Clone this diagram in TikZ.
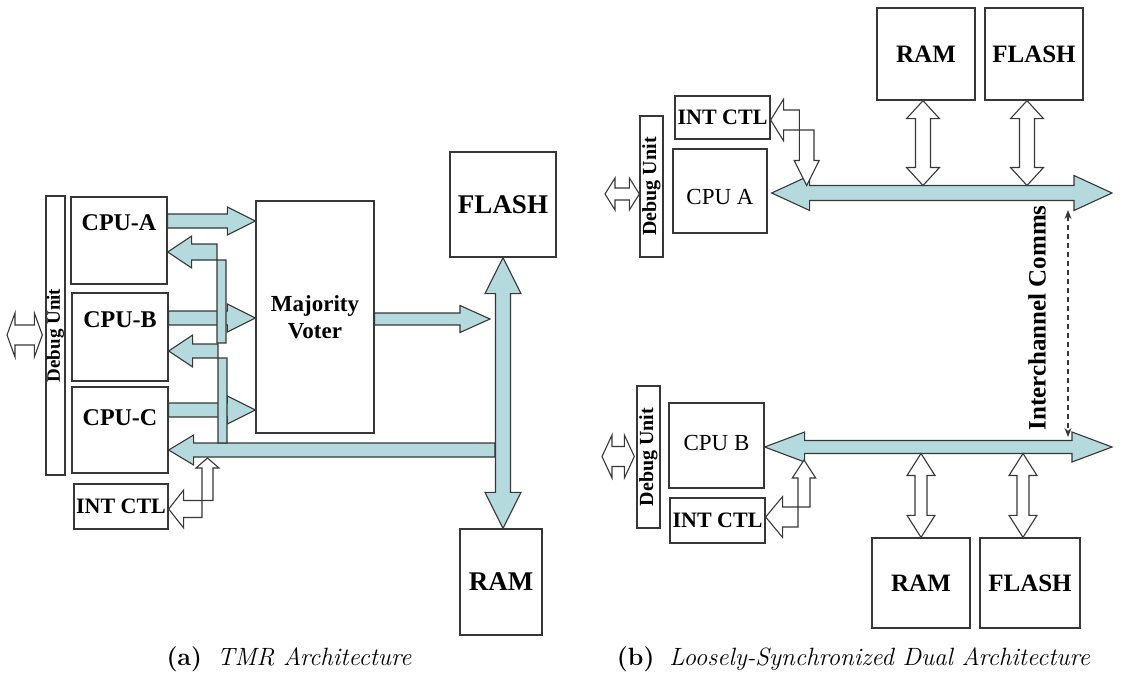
\documentclass[tikz,border=0pt]{standalone}
\usepackage{fontspec}
\newfontfamily\timesfont{Liberation Serif}
\usetikzlibrary{calc, arrows.meta}

\definecolor{busblue}{RGB}{180,218,222}
\definecolor{edgegray}{RGB}{55,55,55}

\tikzstyle{box} = [rectangle, draw=edgegray, line width=1.3pt, fill=white, inner sep=0pt]
\tikzstyle{cpulbl} = [inner sep=0pt, font=\timesfont\bfseries\fontsize{24}{28}\selectfont]
\tikzstyle{voterlbl} = [align=center, font=\timesfont\bfseries\fontsize{23}{27}\selectfont]
\tikzstyle{memlbl} = [font=\timesfont\bfseries\fontsize{27}{30}\selectfont]
\tikzstyle{smallmemlbl} = [font=\timesfont\bfseries\fontsize{25}{28}\selectfont]
\tikzstyle{intlbl} = [font=\timesfont\bfseries\fontsize{22}{24}\selectfont]
\tikzstyle{dbglbl} = [inner sep=0pt, font=\timesfont\bfseries\fontsize{19}{21}\selectfont]
\tikzstyle{plainlbl} = [inner sep=0pt, font=\timesfont\fontsize{23}{26}\selectfont]
\tikzstyle{commslbl} = [inner sep=0pt, font=\timesfont\bfseries\fontsize{25}{28}\selectfont]
\tikzstyle{fat} = [draw=edgegray, fill=busblue, line width=1.1pt, line join=miter]
\tikzstyle{hollow} = [fat, fill=white]
\tikzstyle{commsline} = [draw=edgegray, line width=1.2pt, dash pattern=on 5pt off 4pt,
                         {Stealth[length=9pt,width=7pt]}-{Stealth[length=9pt,width=7pt]}]
\tikzstyle{caption} = [font=\fontsize{25}{30}\selectfont]

% half widths and head lengths of the block arrows
\tikzset{
  fat shaft/.store in=\arrsh, fat head/.store in=\arrhw, fat length/.store in=\arrhl,
  arm shaft/.store in=\armsh, arm head/.store in=\armhw, arm length/.store in=\armhl,
  fat shaft=7, fat head=14, fat length=28, arm shaft=5, arm head=12, arm length=15
}

% block arrow from #2 to #3, head at #3
\newcommand{\fatarrow}[3][]{%
  \draw[fat,#1] let \p1=(#2), \p2=(#3),
      \n1={veclen(\x2-\x1,\y2-\y1)}, \n2={atan2(\y2-\y1,\x2-\x1)} in
    [shift={(\p1)}, rotate=\n2]
    (0,\arrsh) -- (\n1-\arrhl,\arrsh) -- (\n1-\arrhl,\arrhw) -- (\n1,0)
    -- (\n1-\arrhl,-\arrhw) -- (\n1-\arrhl,-\arrsh) -- (0,-\arrsh) -- cycle;}

% block arrow with a head on both ends
\newcommand{\fatdarrow}[3][]{%
  \draw[fat,#1] let \p1=(#2), \p2=(#3),
      \n1={veclen(\x2-\x1,\y2-\y1)}, \n2={atan2(\y2-\y1,\x2-\x1)} in
    [shift={(\p1)}, rotate=\n2]
    (0,0) -- (\arrhl,\arrhw) -- (\arrhl,\arrsh) -- (\n1-\arrhl,\arrsh) -- (\n1-\arrhl,\arrhw)
    -- (\n1,0) -- (\n1-\arrhl,-\arrhw) -- (\n1-\arrhl,-\arrsh) -- (\arrhl,-\arrsh)
    -- (\arrhl,-\arrhw) -- cycle;}

% bent block arrow: head at #2 (pointing left), bend at #3, arm ends at #4
\newcommand{\fatelbow}[4][]{%
  \draw[fat,#1] let \p1=(#2), \p2=(#3), \p3=(#4),
      \n1={\x2-\x1}, \n2={abs(\y3-\y2)}, \n3={sign(\y3-\y2)} in
    [shift={(\p1)}, yscale=\n3]
    (0,0) -- (\arrhl,-\arrhw) -- (\arrhl,-\arrsh) -- (\n1+\armsh,-\arrsh) -- (\n1+\armsh,\n2)
    -- (\n1-\armsh,\n2) -- (\n1-\armsh,\arrsh) -- (\arrhl,\arrsh) -- (\arrhl,\arrhw) -- cycle;}

% bent block arrow with a second head at #4
\newcommand{\fatdelbow}[4][]{%
  \draw[fat,#1] let \p1=(#2), \p2=(#3), \p3=(#4),
      \n1={\x2-\x1}, \n2={abs(\y3-\y2)}, \n3={sign(\y3-\y2)} in
    [shift={(\p1)}, yscale=\n3]
    (0,0) -- (\arrhl,-\arrhw) -- (\arrhl,-\arrsh) -- (\n1+\armsh,-\arrsh)
    -- (\n1+\armsh,\n2-\armhl) -- (\n1+\armhw,\n2-\armhl) -- (\n1,\n2)
    -- (\n1-\armhw,\n2-\armhl) -- (\n1-\armsh,\n2-\armhl) -- (\n1-\armsh,\arrsh)
    -- (\arrhl,\arrsh) -- (\arrhl,\arrhw) -- cycle;}

\begin{document}
\begin{tikzpicture}[x=1pt, y=-1pt]
  \useasboundingbox (0,0) rectangle (1133,677);

  %Nodes (TMR)
  \node[box, minimum width=19, minimum height=279] (debugL) at (55.5,335.5) {};
  \node[dbglbl, rotate=90] (debugLtext) at (debugL) {Debug Unit};
  \node[box, minimum width=96, minimum height=87] (cpua) at (119,240.5) {};
  \node[box, minimum width=96, minimum height=88] (cpub) at (120,337) {};
  \node[box, minimum width=96, minimum height=86] (cpuc) at (120,430) {};
  \node[cpulbl] (cpuatext) at (cpua |- 0,223) {CPU-A};
  \node[cpulbl] (cpubtext) at (cpub |- 0,320) {CPU-B};
  \node[cpulbl] (cpuctext) at (cpuc |- 0,418) {CPU-C};
  \node[box, voterlbl, minimum width=118, minimum height=232] (voter) at (315,317) {Majority\\Voter};
  \node[box, memlbl, minimum width=106, minimum height=105] (flashL) at (503,204.5) {FLASH};
  \node[box, memlbl, minimum width=82, minimum height=106] (ramL) at (501,582) {RAM};
  \node[box, intlbl, minimum width=94, minimum height=45] (intL) at (121,506.5) {INT CTL};

  %Lines (TMR)
  \coordinate (busjoin) at ($(flashL.south |- 0,450)+(-8,0)$);
  \coordinate (busin) at ($(flashL.south |- 0,319)+(-13,0)$);
  \coordinate (retAend) at (221.5,343);
  \coordinate (retBend) at (222.5,443);
  \coordinate (intLport) at (207.5,458);
  \coordinate (dbgLport) at (7,335);
  \fatarrow[fat shaft=7, fat head=15, fat length=25]{busjoin}{cpuc.east |- busjoin}
  \fatdarrow[fat shaft=7.5, fat head=18, fat length=36]{flashL.south}{flashL.south |- ramL.north}
  \fatarrow[fat shaft=6, fat head=13.5, fat length=30]{voter.east |- busin}{busin}
  \fatarrow{cpua.east |- 0,221}{voter.west |- 0,221}
  \fatarrow{cpub.east |- 0,318}{voter.west |- 0,318}
  \fatarrow{cpuc.east |- 0,410}{voter.west |- 0,410}
  \fatelbow[fat shaft=8, fat head=16, fat length=24, arm shaft=4.5]{cpua.east |- 0,252}{retAend |- 0,252}{retAend}
  \fatelbow[fat shaft=7, fat head=16, fat length=24, arm shaft=4.5]{cpub.east |- 0,351}{retBend |- 0,351}{retBend}
  \fatdelbow[hollow, fat shaft=8.5, fat head=19, fat length=15, arm shaft=5.5, arm head=11.5, arm length=10]{intL.east |- 0,509}{intLport |- 0,509}{intLport}
  \fatdarrow[hollow, fat shaft=10, fat head=22, fat length=8]{dbgLport}{$(debugL.west |- dbgLport)+(-3,0)$}

  %Nodes (dual)
  \node[box, minimum width=23, minimum height=141] (debugA) at (651.5,186.5) {};
  \node[dbglbl, rotate=90, font=\timesfont\bfseries\fontsize{20}{22}\selectfont] (debugAtext) at (debugA) {Debug Unit};
  \node[box, intlbl, minimum width=95, minimum height=43] (intA) at (722.5,117.5) {INT CTL};
  \node[box, minimum width=94, minimum height=84] (cpuA) at (720,191) {};
  \node[plainlbl] (cpuAtext) at (cpuA |- 0,197) {CPU A};
  \node[box, smallmemlbl, minimum width=98, minimum height=92] (ramA) at (926,54) {RAM};
  \node[box, smallmemlbl, minimum width=98, minimum height=92] (flashA) at (1034,54) {FLASH};
  \node[box, minimum width=23, minimum height=142] (debugB) at (648.5,457) {};
  \node[dbglbl, rotate=90, font=\timesfont\bfseries\fontsize{20}{22}\selectfont] (debugBtext) at (debugB) {Debug Unit};
  \node[box, minimum width=95, minimum height=85] (cpuB) at (716.5,445.5) {};
  \node[plainlbl] (cpuBtext) at (cpuB |- 0,443) {CPU B};
  \node[box, intlbl, minimum width=95, minimum height=45] (intB) at (717.5,520.5) {INT CTL};
  \node[box, smallmemlbl, minimum width=98, minimum height=90] (ramB) at (921,583) {RAM};
  \node[box, smallmemlbl, minimum width=100, minimum height=90] (flashB) at (1030,583) {FLASH};
  \node[commslbl, rotate=90] (comms) at (1037,318) {Interchannel Comms};

  %Lines (dual)
  \coordinate (busAend) at (1112,193);
  \coordinate (busBend) at (1112,447);
  \coordinate (busAtop) at (0,185.5);
  \coordinate (busBbot) at (0,453.5);
  \coordinate (ramAport) at ([xshift=-3pt]ramA.south);
  \coordinate (flashAport) at ([xshift=-7pt]flashA.south);
  \coordinate (flashBport) at ([xshift=-7pt]flashB.north);
  \coordinate (intAbend) at (806.7,120);
  \coordinate (intBbend) at (804,517);
  \coordinate (intBport) at (804,460);
  \coordinate (dbgAport) at (605,194);
  \coordinate (dbgBport) at (602,456.5);
  \coordinate (commsA) at (1068,210);
  \coordinate (commsB) at (1068,437);
  \fatdarrow[fat shaft=7.5, fat head=17.5, fat length=38]{$(cpuA.east |- busAend)+(4,0)$}{busAend}
  \fatdarrow[fat shaft=6.5, fat head=15, fat length=40]{cpuB.east |- busBend}{busBend}
  \fatdarrow[hollow, fat shaft=7.5, fat head=16.5, fat length=18]{ramAport}{ramAport |- busAtop}
  \fatdarrow[hollow, fat shaft=7.5, fat head=16.5, fat length=18]{flashAport}{flashAport |- busAtop}
  \fatdarrow[hollow, fat shaft=6, fat head=14, fat length=22]{ramB.north}{ramB.north |- busBbot}
  \fatdarrow[hollow, fat shaft=6, fat head=14, fat length=22]{flashBport}{flashBport |- busBbot}
  \fatdelbow[hollow, fat shaft=10, fat head=21, fat length=13, arm shaft=7.3, arm head=12.5, arm length=25]{intA.east |- intAbend}{intAbend}{intAbend |- busAtop}
  \fatdelbow[hollow, fat shaft=10, fat head=20.5, fat length=17, arm shaft=6, arm head=11.7, arm length=18]{intB.east |- intBbend}{intBbend}{intBport}
  \fatdarrow[hollow, fat shaft=6, fat head=16, fat length=10]{dbgAport}{debugA.west |- dbgAport}
  \fatdarrow[hollow, fat shaft=10, fat head=21.5, fat length=10]{dbgBport}{$(debugB.west |- dbgBport)+(-2,0)$}
  \draw[commsline] (commsA) -- (commsB);

  %Captions
  \node[caption] (capa) at (289,659) {\textbf{(a)}\hspace{0.6em}\textit{TMR Architecture}};
  \node[caption] (capb) at (853.5,659) {\textbf{(b)}\hspace{0.6em}\textit{Loosely-Synchronized Dual Architecture}};
\end{tikzpicture}
\end{document}
